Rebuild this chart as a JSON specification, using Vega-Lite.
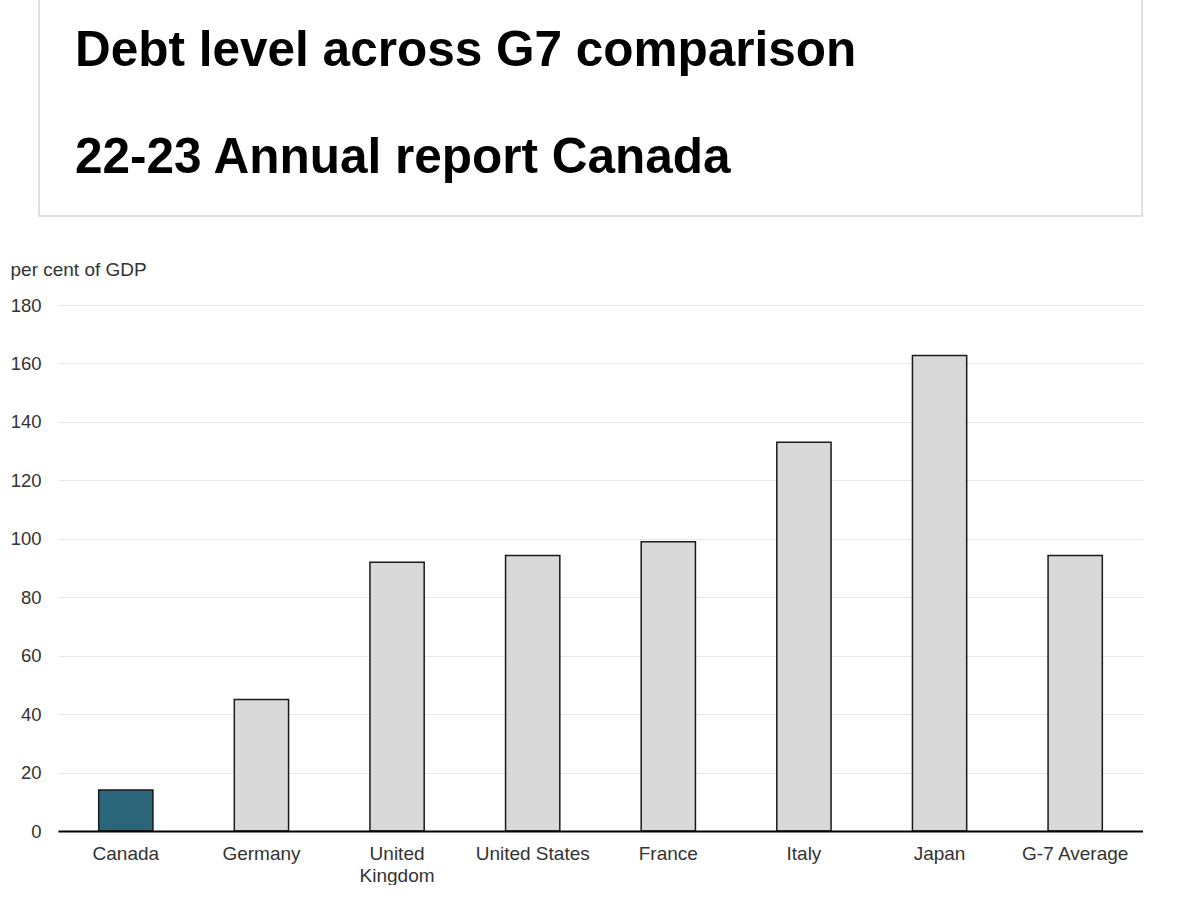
{
  "$schema": "https://vega.github.io/schema/vega-lite/v6.json",
  "padding": {"top": -10, "left": 0, "right": 0, "bottom": 0},
  "background": "white",
  "spacing": 43,
  "config": {
    "view": {"stroke": null},
    "font": "Liberation Sans"
  },
  "vconcat": [
    {
      "spacing": 37,
      "hconcat": [
        {
          "width": 1,
          "height": 1,
          "data": {"values": []},
          "mark": "rect"
        },
        {
          "width": 1103,
          "height": 225,
          "view": {"stroke": "#d6d6dc", "strokeWidth": 1.5},
          "data": {"values": [
            {"line": 1, "text": "Debt level across G7 comparison"},
            {"line": 2, "text": "22-23 Annual report Canada"}
          ]},
          "mark": {"type": "text", "align": "left", "baseline": "alphabetic", "font": "Liberation Sans", "fontWeight": "bold", "fontSize": 49.5, "color": "#000000", "x": 36},
          "encoding": {
            "y": {"field": "line", "type": "ordinal", "scale": {"range": [75, 182], "padding": 0}, "axis": null},
            "text": {"field": "text"}
          }
        }
      ]
    },
    {
      "spacing": 9,
      "hconcat": [
        {
          "width": 1,
          "height": 1,
          "data": {"values": []},
          "mark": "rect"
        },
        {
          "width": 1085,
          "height": 526,
          "data": {"values": [
            {"country": "Canada", "debt": 14},
            {"country": "Germany", "debt": 45},
            {"country": "United Kingdom", "debt": 92},
            {"country": "United States", "debt": 94.3},
            {"country": "France", "debt": 99},
            {"country": "Italy", "debt": 133},
            {"country": "Japan", "debt": 162.7},
            {"country": "G-7 Average", "debt": 94.3}
          ]},
          "mark": {"type": "bar", "stroke": "#1a1a1a", "strokeWidth": 1.5},
          "encoding": {
            "x": {
              "field": "country", "type": "nominal", "sort": null,
              "scale": {"paddingInner": 0.6, "paddingOuter": 0.3},
              "axis": {
                "title": null, "labelAngle": 0, "domainColor": "#000000", "domainWidth": 2,
                "ticks": false, "tickSize": 0, "labelFontSize": 19, "labelColor": "#333333",
                "labelPadding": 13, "labelLineHeight": 22, "labelLimit": 300, "zindex": 1,
                "labelFont": "Liberation Sans",
                "labelExpr": "datum.label === 'United Kingdom' ? ['United', 'Kingdom'] : datum.label"
              }
            },
            "y": {
              "field": "debt", "type": "quantitative",
              "scale": {"domain": [0, 180]},
              "axis": {
                "values": [0, 20, 40, 60, 80, 100, 120, 140, 160, 180],
                "domain": false, "ticks": false, "tickSize": 0,
                "grid": true, "gridColor": "#e6e6e6", "gridWidth": 1.2,
                "labelFontSize": 18.5, "labelColor": "#333333", "labelPadding": 17,
                "labelFont": "Liberation Sans",
                "title": "per cent of GDP", "titleAngle": 0, "titleAlign": "left",
                "titleBaseline": "alphabetic", "titleX": -48, "titleY": -30,
                "titleFontSize": 19, "titleFontWeight": "normal", "titleColor": "#333333",
                "titleFont": "Liberation Sans"
              }
            },
            "fill": {
              "condition": {"test": "datum.country === 'Canada'", "value": "#2b657a"},
              "value": "#d9d9d9"
            }
          }
        }
      ]
    }
  ]
}
